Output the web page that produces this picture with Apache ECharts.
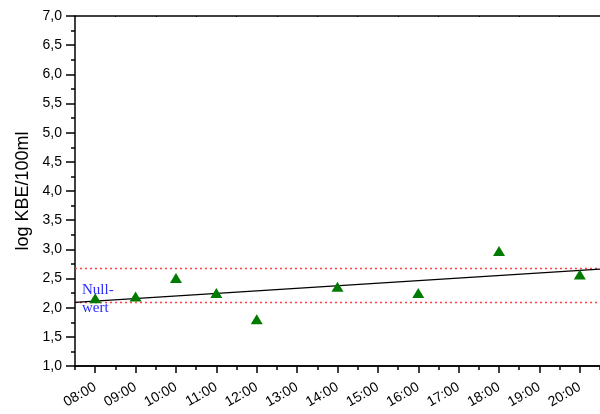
<!DOCTYPE html>
<html>
<head>
<meta charset="utf-8">
<script src="https://cdn.jsdelivr.net/npm/echarts@6/dist/echarts.min.js"></script>
<style>
  html, body { margin: 0; padding: 0; background: #fff; }
  #chart { width: 600px; height: 414px; }
</style>
</head>
<body>
<div id="chart"></div>
<script>
// sampling times (hours) and measured values (log KBE/100ml)
const hours = [8, 9, 10, 11, 12, 14, 16, 18, 20];
const values = [2.16, 2.19, 2.51, 2.25, 1.80, 2.36, 2.25, 2.97, 2.57];

// linear fit, drawn from the left to the right edge of the plot
const fitX = [7.5, 20.5];
const fitY = [2.09, 2.66];

// limits of the null value band
const nullLow = 2.09;
const nullHigh = 2.67;

const majorTicks = [8, 9, 10, 11, 12, 13, 14, 15, 16, 17, 18, 19, 20];
const minorTicks = [7.5, 8.5, 9.5, 10.5, 11.5, 12.5, 13.5, 14.5, 15.5, 16.5, 17.5, 18.5, 19.5, 20.5];

const font = 'Liberation Sans, Arial, sans-serif';
const pad = n => (n < 10 ? '0' : '') + n + ':00';

document.addEventListener("DOMContentLoaded", function() {
    const chart = echarts.init(document.getElementById('chart'));

    const baseX = {
        type: 'value',
        min: 7.5,
        max: 20.5,
        splitLine: {show: false},
        axisLine: {show: true, onZero: false, lineStyle: {color: '#000', width: 1.5}}
    };

    chart.setOption({
        animation: false,
        grid: {left: 75, right: 0, top: 16, bottom: 48},
        xAxis: [
            Object.assign({}, baseX, {
                position: 'bottom',
                axisTick: {show: true, length: 7, customValues: majorTicks, lineStyle: {color: '#000', width: 1.5}},
                axisLabel: {
                    customValues: majorTicks,
                    formatter: v => pad(v),
                    rotate: 30,
                    margin: 20,
                    color: '#000',
                    fontFamily: font,
                    fontSize: 14
                }
            }),
            Object.assign({}, baseX, {
                position: 'bottom',
                axisTick: {show: true, length: 4, customValues: minorTicks, lineStyle: {color: '#000', width: 1.5}},
                axisLabel: {show: false}
            }),
            Object.assign({}, baseX, {
                position: 'top',
                axisTick: {show: true, inside: true, length: 1, customValues: minorTicks, lineStyle: {color: '#000'}},
                axisLabel: {show: false}
            })
        ],
        yAxis: {
            type: 'value',
            min: 1,
            max: 7,
            interval: 0.5,
            name: 'log KBE/100ml',
            nameLocation: 'middle',
            nameGap: 38,
            nameTextStyle: {color: '#000', fontFamily: font, fontSize: 18},
            splitLine: {show: false},
            axisLine: {show: true, lineStyle: {color: '#000', width: 1.5}},
            axisTick: {show: true, length: 9, lineStyle: {color: '#000', width: 1.5}},
            minorTick: {show: true, splitNumber: 2, length: 4, lineStyle: {color: '#000', width: 1.5}},
            axisLabel: {
                formatter: v => v.toFixed(1).replace('.', ','),
                margin: 13,
                color: '#000',
                fontFamily: font,
                fontSize: 14
            }
        },
        graphic: [{
            type: 'text',
            left: 82,
            top: 281,
            style: {
                text: 'Null-\nwert',
                fill: '#2b2bff',
                font: '15px "Liberation Serif", "Times New Roman", serif',
                lineHeight: 18
            }
        }],
        series: [
            {
                type: 'line',
                data: fitX.map(x => [x, nullLow]),
                symbol: 'none',
                lineStyle: {color: '#ff4040', width: 1.5, type: [2, 3]},
                z: 1
            },
            {
                type: 'line',
                data: fitX.map(x => [x, nullHigh]),
                symbol: 'none',
                lineStyle: {color: '#ff4040', width: 1.5, type: [2, 3]},
                z: 1
            },
            {
                type: 'line',
                data: fitX.map((x, i) => [x, fitY[i]]),
                symbol: 'none',
                lineStyle: {color: '#000', width: 1.2},
                z: 2
            },
            {
                type: 'scatter',
                data: hours.map((h, i) => [h, values[i]]),
                symbol: 'triangle',
                symbolSize: [12, 10],
                itemStyle: {color: '#007a00', opacity: 1},
                z: 3
            }
        ]
    });
});
</script>
</body>
</html>
